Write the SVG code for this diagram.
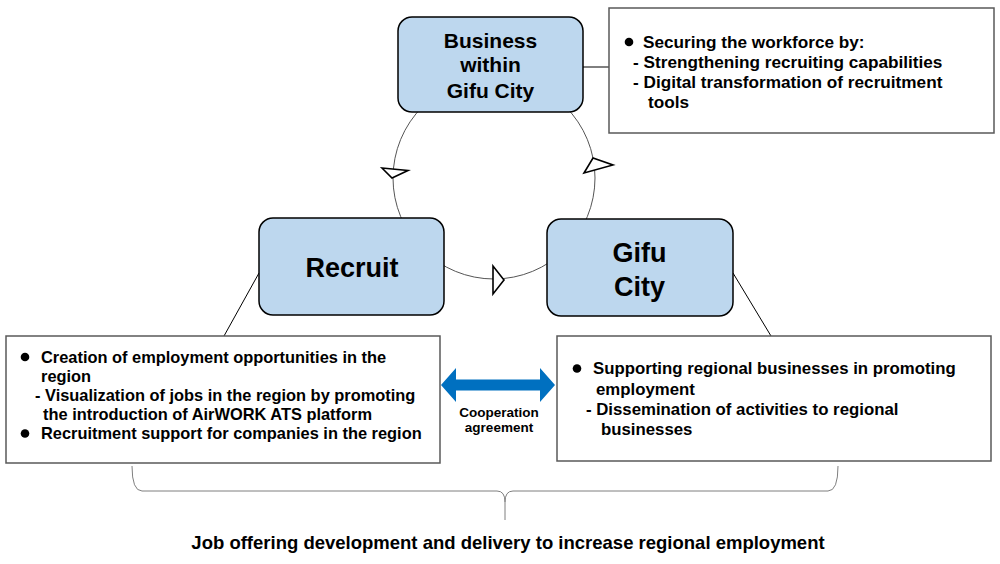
<svg xmlns="http://www.w3.org/2000/svg" width="1000" height="564" viewBox="0 0 1000 564">
<style>
.node{fill:#bdd7ee;stroke:#000;stroke-width:1.5}
.box{fill:#fff;stroke:#595959;stroke-width:1.5}
.t{font-family:"Liberation Sans",Arial,sans-serif;font-weight:bold;fill:#000}
.nt{font-size:21px;text-anchor:middle}
.big{font-size:27px;text-anchor:middle}
.bt{font-size:16.8px}
.lt{font-size:16.4px}
.rt{font-size:17.2px}
.ln{stroke:#000;stroke-width:1;fill:none}
.cyc{stroke:#555;stroke-width:1;fill:none}
.ah{fill:#fff;stroke:#000;stroke-width:1.6;stroke-linejoin:miter}
</style>
<rect width="1000" height="564" fill="#fff"/>
<g id="connectors">
  <circle class="cyc" cx="494" cy="178" r="101"/>
  <polygon class="ah" points="382,168 408,170.5 392,178"/>
  <polygon class="ah" points="584,173 593,158 613,165"/>
  <polygon class="ah" points="493,266 493,294 504,280"/>
  <line class="ln" x1="583" y1="67" x2="609" y2="67"/>
  <line class="ln" x1="259" y1="273" x2="224" y2="336"/>
  <line class="ln" x1="733" y1="273" x2="771" y2="336"/>
  <polygon fill="#0070c0" points="441,385 456,368 456,379.5 540,379.5 540,368 555,385 540,402 540,390.5 456,390.5 456,402"/>
  <path d="M132,466 Q132,491 142,491 L497,491 Q505,491 505,502 L505,520 M505,502 Q505,491 513,491 L828,491 Q838,491 838,466" fill="none" stroke="#7f7f7f" stroke-width="1"/>
</g>
<g id="business">
  <rect class="node" x="398" y="17" width="185" height="95" rx="14"/>
  <text class="t nt" x="490.5" y="47.5">Business</text>
  <text class="t nt" x="490.5" y="72">within</text>
  <text class="t nt" x="490.5" y="97.5">Gifu City</text>
</g>
<g id="business-note">
  <rect class="box" x="609" y="8" width="385" height="125"/>
  <circle cx="629" cy="42" r="4.3"/>
  <text class="t rt" x="643" y="48">Securing the workforce by:</text>
  <text class="t rt" x="633" y="67.5">- Strengthening recruiting capabilities</text>
  <text class="t rt" x="633" y="87.5">- Digital transformation of recruitment</text>
  <text class="t rt" x="648" y="107.5">tools</text>
</g>
<g id="recruit">
  <rect class="node" x="259" y="218" width="185" height="97" rx="14"/>
  <text class="t big" x="352" y="277">Recruit</text>
</g>
<g id="gifu-city">
  <rect class="node" x="547" y="219" width="186" height="97" rx="14"/>
  <text class="t big" x="639.5" y="262">Gifu</text>
  <text class="t big" x="639.5" y="296">City</text>
</g>
<g id="recruit-note">
  <rect class="box" x="6" y="336" width="434" height="127"/>
  <circle cx="25" cy="357" r="4.3"/>
  <text class="t lt" x="41" y="363">Creation of employment opportunities in the</text>
  <text class="t lt" x="41" y="382">region</text>
  <text class="t lt" x="35" y="401">- Visualization of jobs in the region by promoting</text>
  <text class="t lt" x="43" y="420">the introduction of AirWORK ATS platform</text>
  <circle cx="25" cy="433.5" r="4.3"/>
  <text class="t lt" x="41" y="439">Recruitment support for companies in the region</text>
</g>
<g id="gifu-note">
  <rect class="box" x="557" y="336" width="434" height="125"/>
  <circle cx="577" cy="368.5" r="4.3"/>
  <text class="t bt" x="593" y="374">Supporting regional businesses in promoting</text>
  <text class="t bt" x="596" y="394.5">employment</text>
  <text class="t bt" x="586" y="414.5">- Dissemination of activities to regional</text>
  <text class="t bt" x="601" y="434.5">businesses</text>
</g>
<g id="cooperation-label">
  <text class="t" font-size="13.5" text-anchor="middle" x="499" y="417">Cooperation</text>
  <text class="t" font-size="13.5" text-anchor="middle" x="499" y="432">agreement</text>
</g>
<g id="outcome">
  <text class="t" font-size="18.5" text-anchor="middle" x="508" y="549">Job offering development and delivery to increase regional employment</text>
</g>
</svg>
